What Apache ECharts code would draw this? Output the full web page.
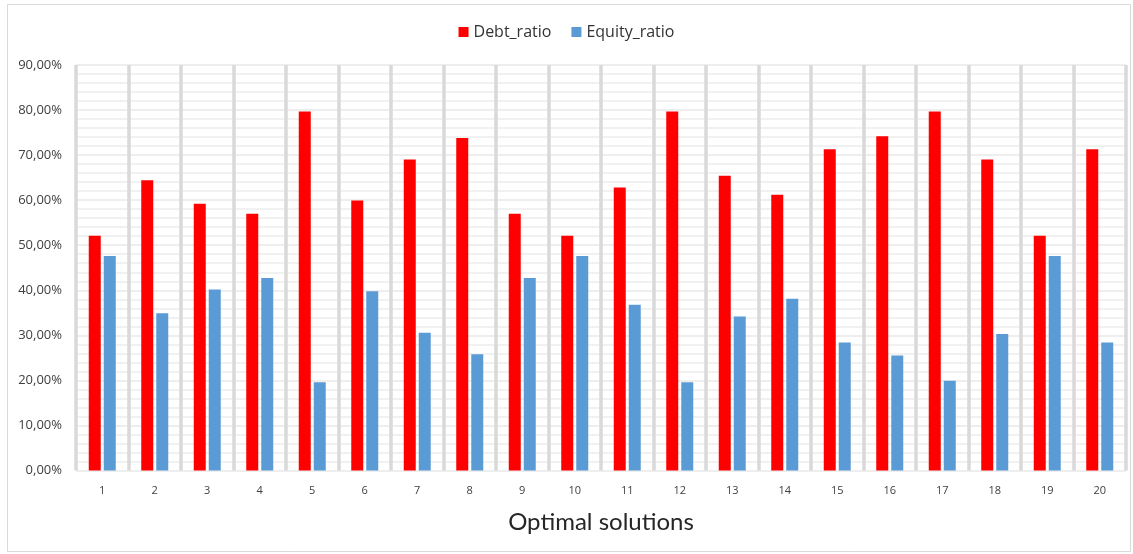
<!DOCTYPE html>
<html>
<head>
<meta charset="utf-8">
<script src="https://cdn.jsdelivr.net/npm/echarts@6/dist/echarts.min.js"></script>
<style>
  html, body { margin: 0; padding: 0; background: #ffffff; }
  #chart { width: 1133px; height: 554px; }
</style>
</head>
<body>
<div id="chart"></div>
<script>
// Optimal solutions 1..20 and their capital structure (percent)
const categories = ['1','2','3','4','5','6','7','8','9','10','11','12','13','14','15','16','17','18','19','20'];
const debtRatio = [52.1, 64.4, 59.2, 57.0, 79.7, 59.9, 69.0, 73.8, 57.0, 52.1, 62.8, 79.7, 65.4, 61.2, 71.3, 74.2, 79.7, 69.0, 52.1, 71.3];
const equityRatio = [47.6, 34.9, 40.2, 42.7, 19.6, 39.8, 30.6, 25.8, 42.7, 47.6, 36.8, 19.6, 34.2, 38.1, 28.4, 25.5, 19.9, 30.3, 47.6, 28.4];
const seriesNames = ['Debt_ratio', 'Equity_ratio'];
const xAxisTitle = 'Optimal solutions';

const fmtPct = v => v.toFixed(2).replace('.', ',') + '%';

const chart = echarts.init(document.getElementById('chart'), null, { renderer: 'canvas' });
chart.setOption({
  animation: false,
  backgroundColor: '#ffffff',
  textStyle: { fontFamily: 'Open Sans' },
  graphic: [{
    type: 'rect',
    shape: { x: 7.5, y: 4.5, width: 1123, height: 547 },
    style: { fill: 'none', stroke: '#d9d9d9', lineWidth: 1 },
    silent: true,
    z: -1
  }],
  legend: {
    top: 19,
    left: 'center',
    itemWidth: 10,
    itemHeight: 10,
    itemGap: 20,
    icon: 'rect',
    textStyle: { fontFamily: 'Open Sans', fontSize: 16, color: '#333333' },
    data: seriesNames
  },
  grid: { left: 76, right: 7, top: 65, bottom: 83.5, containLabel: false },
  xAxis: {
    type: 'category',
    data: categories,
    boundaryGap: true,
    name: xAxisTitle,
    nameLocation: 'middle',
    nameGap: 40,
    nameTextStyle: { fontFamily: 'Lato', fontSize: 24, color: '#262626' },
    axisLine: { show: false },
    axisTick: { show: false },
    axisLabel: { fontSize: 11, color: '#404040', margin: 15 },
    splitLine: { show: true, lineStyle: { color: '#d9d9d9', width: 3.5 } }
  },
  yAxis: {
    type: 'value',
    min: 0,
    max: 90,
    interval: 10,
    axisLine: { show: false },
    axisTick: { show: false },
    axisLabel: { formatter: fmtPct, fontSize: 13, color: '#404040', margin: 14 },
    splitLine: { show: true, lineStyle: { color: '#e9e9e9', width: 1.5 } },
    minorTick: { show: false, splitNumber: 5 },
    minorSplitLine: { show: true, lineStyle: { color: '#ededed', width: 1.5 } }
  },
  series: [
    {
      name: seriesNames[0],
      type: 'bar',
      data: debtRatio,
      barWidth: 12,
      barGap: '25%',
      itemStyle: { color: '#ff0000' }
    },
    {
      name: seriesNames[1],
      type: 'bar',
      data: equityRatio,
      barWidth: 12,
      barGap: '25%',
      itemStyle: { color: '#5b9bd5' }
    }
  ]
});
</script>
</body>
</html>
